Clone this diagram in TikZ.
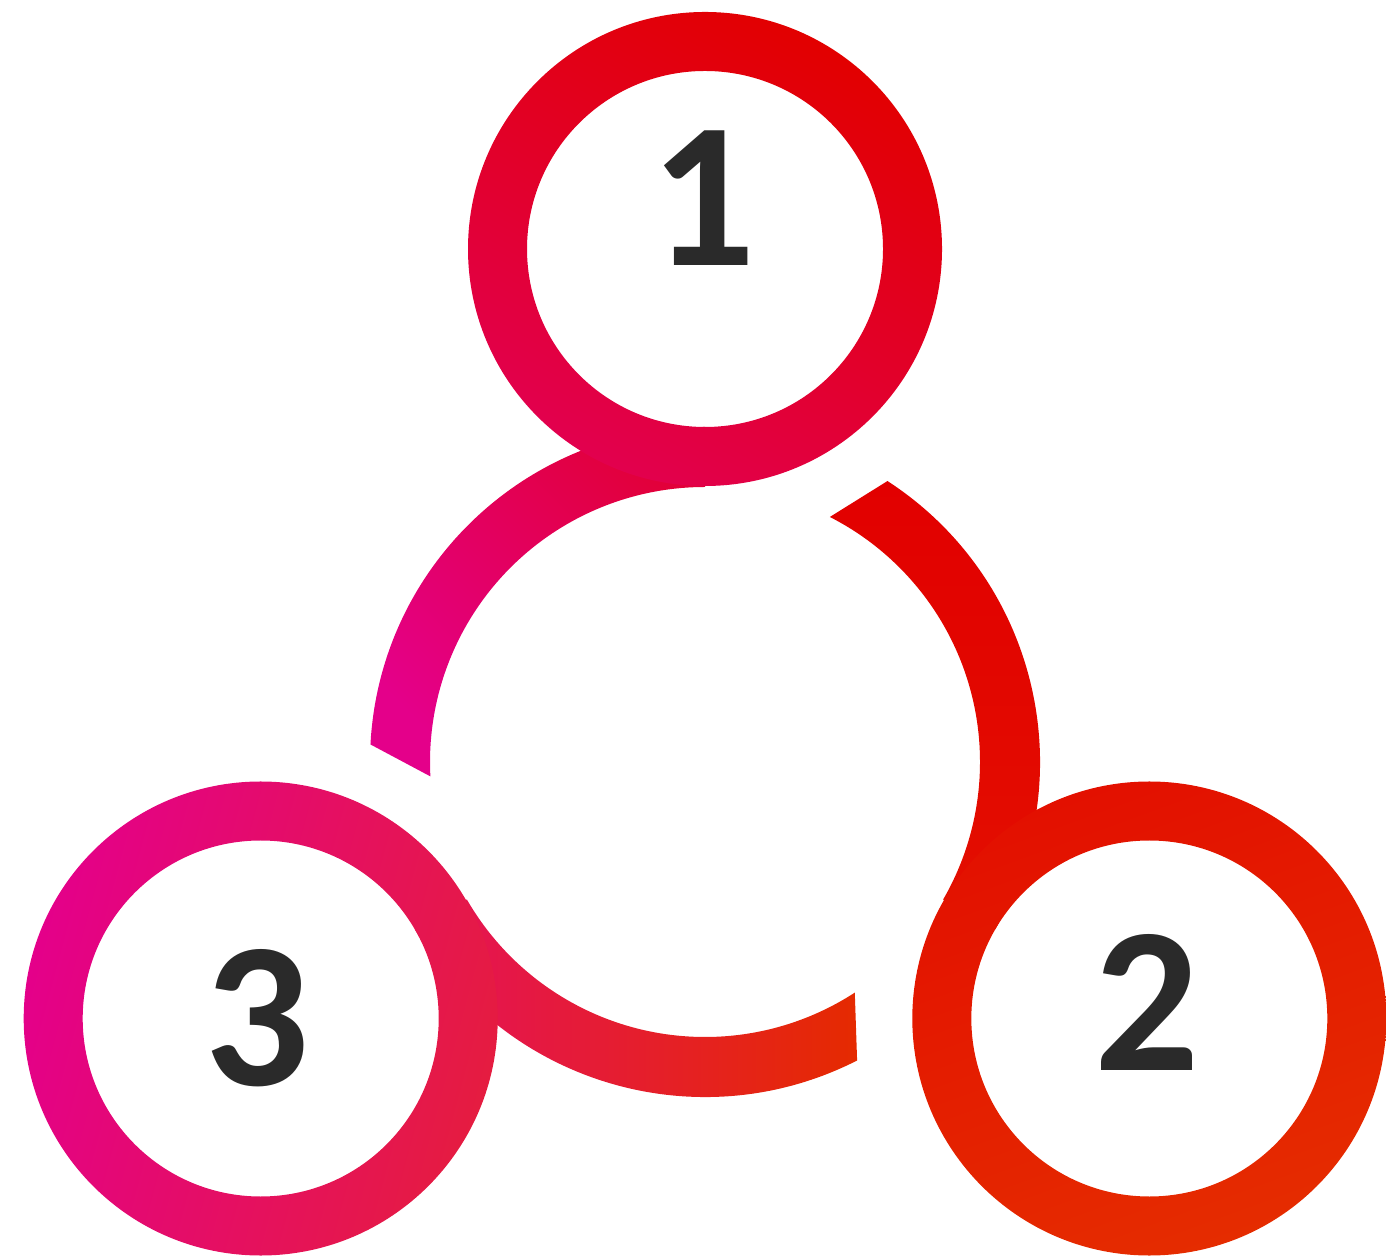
\documentclass[tikz,border=0pt]{standalone}
\usepackage{fontspec}
\setmainfont{Carlito}

\definecolor{hubpink}{HTML}{E4008A}
\definecolor{hubrose}{HTML}{E30072}
\definecolor{hubcrimson}{HTML}{E2003A}
\definecolor{brandred}{HTML}{E20000}
\definecolor{redlow}{HTML}{E30F00}
\definecolor{ringtwotop}{HTML}{E31000}
\definecolor{ringtwolow}{HTML}{E52C00}
\definecolor{bottomrose}{HTML}{E5125A}
\definecolor{bottomorange}{HTML}{E52A00}
\definecolor{ringonelow}{HTML}{E2004E}
\definecolor{ringthreeright}{HTML}{E51C40}
\definecolor{digitgrey}{HTML}{2A2A2A}

\begin{document}
\begin{tikzpicture}[
	x=0.01cm, y=0.01cm,
	ring/.style={even odd rule},
	digit/.style={
		font=\bfseries\fontsize{59pt}{59pt}\selectfont,
		text=digitgrey, inner sep=0pt
	}
]
\useasboundingbox (0,0) rectangle (1386,1255);

% Centres: hub and three rings, 120 deg apart, tangent to the hub
\coordinate (hub) at (705,493);
\coordinate (c1)  at (705,1006);
\coordinate (c2)  at (1149.3,236.5);
\coordinate (c3)  at (260.7,236.5);

% Hub arcs, each cut on a slant just past a ring
\begin{scope}[shift={(hub)}]
	\shade[bottom color=hubpink, middle color=hubrose, top color=hubcrimson, shading angle=-45]
		(177:335) arc[start angle=177, end angle=90, radius=335]
		-- (90:275) arc[start angle=90, end angle=183, radius=275] -- cycle;
	\shade[top color=brandred, bottom color=redlow]
		(57:335) arc[start angle=57, end angle=-30, radius=335]
		-- (-30:275) arc[start angle=-30, end angle=63, radius=275] -- cycle;
	\shade[left color=bottomrose, right color=bottomorange]
		(-63:335) arc[start angle=-63, end angle=-150, radius=335]
		-- (-150:275) arc[start angle=-150, end angle=-57, radius=275] -- cycle;
\end{scope}

% Rings
\shade[ring, top color=brandred, middle color=brandred, bottom color=ringonelow, shading angle=-30]
	(c1) circle[radius=237] (c1) circle[radius=178];
\shade[ring, top color=ringtwotop, bottom color=ringtwolow, shading angle=20]
	(c2) circle[radius=237] (c2) circle[radius=178];
\shade[ring, left color=hubpink, right color=ringthreeright, shading angle=75]
	(c3) circle[radius=237] (c3) circle[radius=178];

% Numbers
\node[digit] (n1) at (703,1056.5) {1};
\node[digit] (n2) at (1147.5,252.5) {2};
\node[digit] (n3) at (257,237) {3};

\end{tikzpicture}
\end{document}
